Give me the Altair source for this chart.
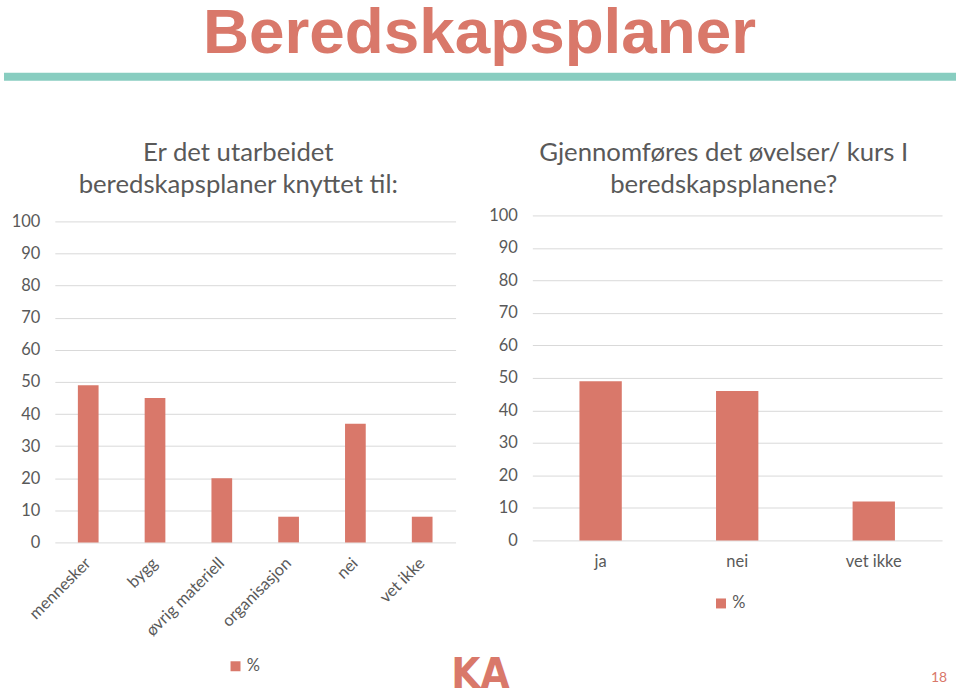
import altair as alt
import pandas as pd

# ---------------- data ----------------
left_categories = ["mennesker", "bygg", "øvrig materiell", "organisasjon", "nei", "vet ikke"]
left_values = [49, 45, 20, 8, 37, 8]
right_categories = ["ja", "nei", "vet ikke"]
right_values = [49, 46, 12]
series_name = "%"
y_ticks = [0, 10, 20, 30, 40, 50, 60, 70, 80, 90, 100]
slide_title = "Beredskapsplaner"
left_title = ["Er det utarbeidet", "beredskapsplaner knyttet til:"]
right_title = ["Gjennomføres det øvelser/ kurs I", "beredskapsplanene?"]
page_number = "18"
logo_text = "KA"

# ---------------- style ----------------
BAR = "#D9786A"
TEXT = "#595959"
GRID = "#D9D9D9"
TEAL = "#88CDC0"
FONT = "Lato"
TICK_SIZE = 16.5

# panel geometry (plot areas)
L_X0, TOP = 54, 215
L_W, L_H = 402, 328
R_X0 = 533
R_W, R_H = 411, 326
SPACING = R_X0 - (L_X0 + L_W)


def one(value):
    return pd.DataFrame({"t": [value]})


def y_axis():
    return alt.Axis(values=y_ticks, title=None, ticks=False, domain=False,
                    grid=True, gridColor=GRID, gridWidth=1, labelPadding=15,
                    labelFont=FONT, labelFontSize=TICK_SIZE, labelColor=TEXT)


def legend(lx, ly):
    return alt.Legend(title=None, orient="none", legendX=lx, legendY=ly,
                      symbolType="square", symbolSize=100, symbolStrokeWidth=0,
                      labelFont=FONT, labelFontSize=TICK_SIZE, labelColor=TEXT,
                      labelOffset=3, padding=0)


def title_lines(lines, cx):
    layers = []
    for i, line in enumerate(lines):
        layers.append(
            alt.Chart(one(line)).mark_text(font=FONT, fontSize=25.8, color=TEXT,
                                           align="center", baseline="alphabetic")
            .encode(x=alt.value(cx), y=alt.value(-55 + 33 * i), text="t:N")
        )
    return layers


# ---------------- left panel ----------------
df_left = pd.DataFrame({"kategori": left_categories, "verdi": left_values,
                        "serie": series_name})

left_bars = alt.Chart(df_left).mark_bar().encode(
    x=alt.X("kategori:N", sort=left_categories,
            scale=alt.Scale(paddingInner=0.69, paddingOuter=0.345),
            axis=alt.Axis(title=None, labelAngle=315, labelAlign="right",
                          labelBaseline="middle", labelPadding=18, ticks=False,
                          domain=False, grid=False, labelFont=FONT,
                          labelFontSize=TICK_SIZE, labelColor=TEXT)),
    y=alt.Y("verdi:Q", scale=alt.Scale(domain=[0, 101.9], nice=False, zero=True),
            axis=y_axis()),
    color=alt.Color("serie:N", scale=alt.Scale(range=[BAR]),
                    legend=legend(173, 444)),
)

anchor = alt.Chart(one("a")).mark_rule(opacity=0).encode(
    x=alt.value(-L_X0), x2=alt.value(960 - L_X0),
    y=alt.value(-TOP), y2=alt.value(699 - TOP),
)

big_title = alt.Chart(one(slide_title)).mark_text(
    font="Liberation Sans", fontWeight="bold", fontSize=64, color=BAR,
    align="center", baseline="alphabetic",
).encode(x=alt.value(480 - L_X0), y=alt.value(52 - TOP), text="t:N")

teal_line = alt.Chart(one("line")).mark_rule(color=TEAL, strokeWidth=8).encode(
    x=alt.value(3 - L_X0), x2=alt.value(958 - L_X0), y=alt.value(76 - TOP),
)

left = alt.layer(
    left_bars, anchor, big_title, teal_line, *title_lines(left_title, 238 - L_X0)
).properties(width=L_W, height=L_H)

# ---------------- right panel ----------------
df_right = pd.DataFrame({"kategori": right_categories, "verdi": right_values,
                         "serie": series_name})

right_bars = alt.Chart(df_right).mark_bar().encode(
    x=alt.X("kategori:N", sort=right_categories,
            scale=alt.Scale(paddingInner=0.69, paddingOuter=0.345),
            axis=alt.Axis(title=None, labelAngle=0, labelPadding=13, ticks=False,
                          domain=False, grid=False, labelFont=FONT,
                          labelFontSize=TICK_SIZE, labelColor=TEXT)),
    y=alt.Y("verdi:Q", scale=alt.Scale(domain=[0, 100], nice=False),
            axis=y_axis()),
    color=alt.Color("serie:N", scale=alt.Scale(range=[BAR]),
                    legend=legend(181, 381)),
)

logo = alt.Chart(one(logo_text)).mark_text(
    font="DejaVu Sans Condensed", fontWeight="bold", fontSize=42, color=BAR,
    align="center", baseline="alphabetic",
).encode(x=alt.value(481 - R_X0), y=alt.value(689 - TOP), text="t:N")

page = alt.Chart(one(page_number)).mark_text(
    font=FONT, fontSize=14, color=BAR, align="center", baseline="alphabetic",
).encode(x=alt.value(941 - R_X0), y=alt.value(683 - TOP), text="t:N")

right = alt.layer(
    right_bars, logo, page, *title_lines(right_title, 725 - R_X0)
).properties(width=R_W, height=R_H)

chart = (
    alt.hconcat(left, right, spacing=SPACING, bounds="flush")
    .resolve_scale(color="independent", x="independent", y="independent")
    .resolve_legend(color="independent")
    .properties(padding=0, background="white")
    .configure_view(stroke=None)
)

chart.save("out.html", embed_options={"renderer": "svg", "actions": False})
